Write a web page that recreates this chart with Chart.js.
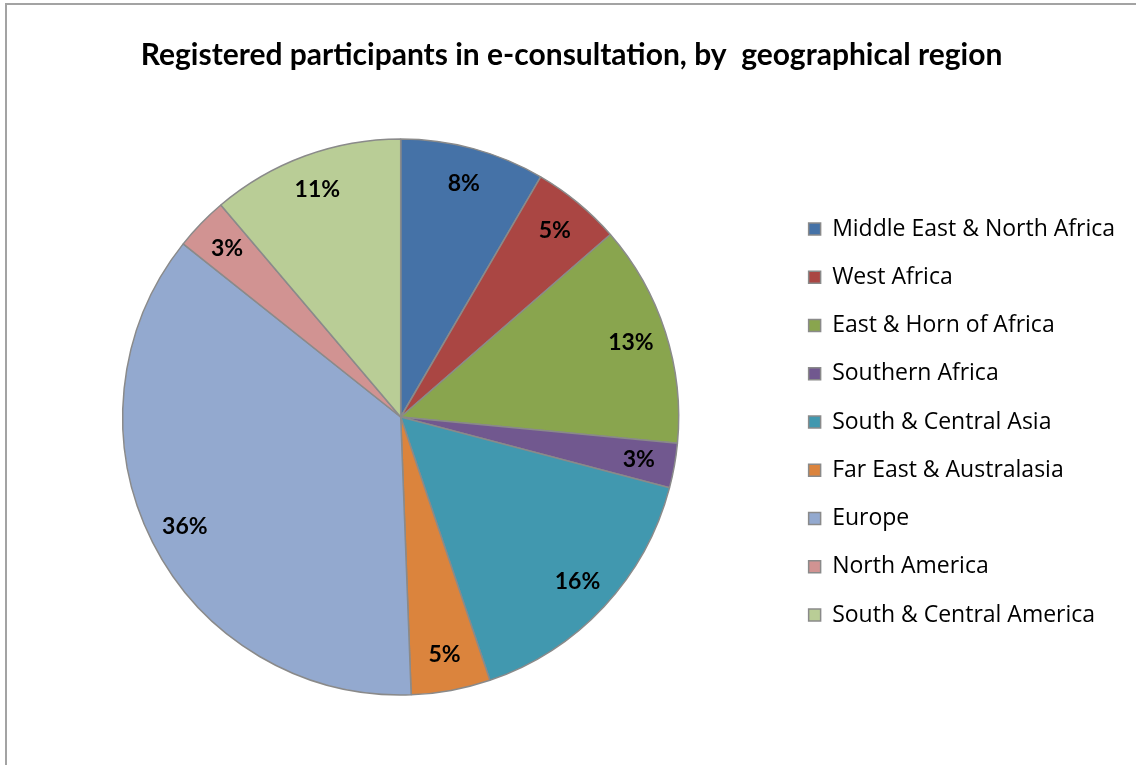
<!DOCTYPE html>
<html>
<head>
<meta charset="utf-8">
<script src="https://cdn.jsdelivr.net/npm/chart.js@4/dist/chart.umd.min.js"></script>
<style>
  html, body { margin: 0; padding: 0; background: #fff; overflow: hidden; }
  #wrap  { position: relative; width: 1136px; height: 765px; }
  #frame { position: absolute; left: 5px; top: 3px; width: 1200px; height: 800px;
           border-top: 2px solid #a3a3a3; border-left: 2px solid #a3a3a3; }
  #pieChart { position: absolute; left: 0; top: 0; }
</style>
</head>
<body>
<div id="wrap">
  <div id="frame"></div>
  <canvas id="pieChart" width="1136" height="765"></canvas>
</div>
<script>
// ── Data ──────────────────────────────────────────────────────────────────
var regions = [
  'Middle East & North Africa',
  'West Africa',
  'East & Horn of Africa',
  'Southern Africa',
  'South & Central Asia',
  'Far East & Australasia',
  'Europe',
  'North America',
  'South & Central America'
];
// share of registered participants, %
var shares = [8.4, 5.2, 12.9, 2.6, 15.7, 4.6, 36.3, 3.1, 11.2];
var sliceColors = [
  '#4572a7', '#aa4643', '#89a54e', '#71588f', '#4198af',
  '#db843d', '#93a9cf', '#d19392', '#b9cd96'
];

var TITLE_FONT  = 'Lato, "Open Sans", sans-serif';
var LEGEND_FONT = '"Open Sans", Lato, sans-serif';

// ── Percent labels inside each slice, near the rim ─────────────────────────
var sliceLabels = {
  id: 'sliceLabels',
  afterDatasetsDraw: function(chart) {
    var ctx  = chart.ctx;
    var arcs = chart.getDatasetMeta(0).data;
    ctx.save();
    ctx.font = 'bold 23px ' + TITLE_FONT;
    ctx.fillStyle = '#000';
    ctx.textAlign = 'center';
    ctx.textBaseline = 'middle';
    arcs.forEach(function(arc, i) {
      var p   = arc.getProps(['x', 'y', 'startAngle', 'endAngle', 'outerRadius'], true);
      var mid = (p.startAngle + p.endAngle) / 2;
      var r   = p.outerRadius * 0.87;
      ctx.fillText(Math.round(shares[i]) + '%', p.x + Math.cos(mid) * r, p.y + Math.sin(mid) * r);
    });
    ctx.restore();
  }
};

new Chart(document.getElementById('pieChart'), {
  type: 'pie',
  data: {
    labels: regions,
    datasets: [{
      data:            shares,
      backgroundColor: sliceColors,
      borderColor:     '#8a8a8a',
      borderWidth:     1.5
    }]
  },
  plugins: [sliceLabels],
  options: {
    responsive: false,
    animation:  false,
    radius:     278,
    layout: { padding: { left: 18, right: 11, top: 0, bottom: 31 } },
    plugins: {
      title: {
        display: true,
        text:    'Registered participants in e-consultation, by  geographical region',
        color:   '#000',
        font:    { family: TITLE_FONT, size: 30, weight: 'bold' },
        padding: { top: 37, bottom: 27 }
      },
      legend: {
        position: 'right',
        align:    'center',
        fullSize: false,
        // empty title, only used to nudge the items down a little
        title: { display: true, text: '', font: { size: 1, lineHeight: 1 }, padding: { top: 9, bottom: 0 } },
        labels: {
          color:       '#000',
          font:        { family: LEGEND_FONT, size: 23 },
          boxWidth:    12,
          boxHeight:   12,
          padding:     25.25,
          generateLabels: function(chart) {
            var items = Chart.controllers.pie.overrides.plugins.legend.labels.generateLabels(chart);
            items.forEach(function(it) { it.strokeStyle = '#8a8a8a'; it.lineWidth = 1.5; });
            return items;
          }
        }
      },
      tooltip: { enabled: false }
    }
  }
});
</script>
</body>
</html>
